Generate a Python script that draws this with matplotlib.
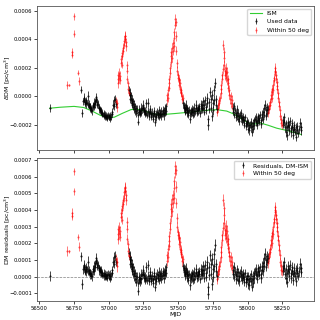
import numpy as np
import matplotlib
matplotlib.use('Agg')
from matplotlib import pyplot as plt

# DM values are given in units of 1e-4 pc/cm^3
SCALE = 1e-4

# ---- "Used data" (black) ----
used_mjd = [
    56574, 56797, 56804,
    56815, 56819, 56823, 56827, 56831, 56835, 56839, 56843, 56847, 56851,
    56855, 56859, 56863, 56867, 56871, 56875, 56879, 56883, 56887, 56891,
    56895, 56899, 56903, 56907, 56911, 56915, 56919, 56923, 56927, 56931,
    56935, 56939, 56943, 56947, 56951, 56955, 56959, 56963, 56967, 56971,
    56975, 56979, 56983, 56987, 56991, 56995, 56999, 57003, 57007, 57011,
    57016, 57021, 57026, 57031, 57036, 57041, 57046, 57050,
    57147, 57150, 57153, 57156, 57159, 57162, 57165, 57168, 57171, 57174,
    57177, 57180, 57184, 57188, 57192, 57196, 57200, 57204, 57208, 57212,
    57216, 57220, 57224, 57228, 57232, 57236, 57240, 57244, 57248, 57252,
    57256, 57260, 57264, 57268, 57272, 57276, 57280, 57284, 57288, 57292,
    57296, 57300, 57304, 57308, 57312, 57316, 57320, 57324, 57328, 57332,
    57336, 57340, 57344, 57348, 57352, 57356, 57360, 57364, 57368, 57372,
    57376, 57380, 57384, 57388, 57392, 57396, 57400, 57404, 57408, 57412,
    57416,
    57537, 57540, 57543, 57546, 57549, 57552, 57555, 57558, 57561, 57564,
    57567, 57570, 57574, 57578, 57582, 57586, 57590, 57594, 57598, 57602,
    57606, 57610, 57614, 57618, 57622, 57626, 57630, 57634, 57638, 57642,
    57646, 57650, 57654, 57658, 57662, 57666, 57670, 57674, 57678, 57682,
    57686, 57690, 57694, 57698, 57702, 57706, 57710, 57714, 57718, 57722,
    57726, 57730, 57734, 57738, 57742, 57746, 57750, 57754, 57758, 57762,
    57766, 57770, 57774, 57778,
    57894, 57898, 57902, 57906, 57910, 57914, 57918, 57922, 57926, 57930,
    57934, 57938, 57942, 57946, 57950, 57954, 57958, 57962, 57966, 57970,
    57974, 57978, 57982, 57986, 57990, 57994, 57998, 58002, 58006, 58010,
    58014, 58018, 58022, 58026, 58030, 58034, 58038, 58042, 58046, 58050,
    58054, 58058, 58062, 58066, 58070, 58074, 58078, 58082, 58086, 58090,
    58094, 58098, 58102, 58106, 58110, 58114, 58118, 58122, 58126, 58130,
    58134, 58138, 58142, 58146,
    58254, 58258, 58262, 58266, 58270, 58274, 58278, 58282, 58286, 58290,
    58294, 58298, 58302, 58306, 58310, 58314, 58318, 58322, 58326, 58330,
    58334, 58338, 58342, 58346, 58350, 58354, 58360, 58366, 58372, 58378,
    58383, 58388,
]
used_dm = [
    -0.80, 0.45, -1.20,
    -0.35, -0.10, -0.25, -0.55, -0.40, -0.50, -0.30, -0.45, 0.00, -0.60,
    -0.70, -0.55, -0.80, -0.75, -0.95, -0.85, -1.00, -0.70, -0.60, -0.75,
    -0.45, -0.55, -0.35, -0.25, -0.05, -0.40, -0.65, -0.55, -0.85, -0.80,
    -1.00, -0.90, -1.10, -1.05, -1.25, -1.15, -1.30, -1.20, -1.40, -1.30,
    -1.45, -1.35, -1.50, -1.40, -1.55, -1.35, -1.50, -1.40, -1.60, -1.35,
    -1.45, -1.25, -1.10, -0.60, -0.30, -0.70, -0.20, -0.55,
    0.40, 0.10, -0.20, 0.25, -0.30, 0.05, -0.45, -0.20, -0.60, -0.35,
    -0.75, -0.55, -0.90, -0.70, -1.05, -0.85, -1.20, -0.95, -1.30, -1.80,
    -1.10, -0.95, -1.25, -1.05, -0.80, -1.15, -0.90, -0.60, -0.85, -1.10,
    -0.95, -1.25, -1.05, -0.50, -1.15, -1.30, -1.05, -0.45, -1.20, -1.40,
    -1.10, -0.90, -1.25, -1.45, -1.15, -1.35, -1.60, -1.20, -1.05, -1.40,
    -1.85, -1.25, -1.50, -1.10, -1.35, -1.20, -1.45, -1.00, -1.30, -1.15,
    -1.40, -1.05, -1.25, -0.95, -1.20, -1.35, -1.00, -1.15, -0.85, -1.05,
    -0.70,
    -0.50, -0.85, -0.65, -1.00, -0.75, -1.10, -0.90, -0.60, -0.95, -1.20,
    -0.85, -1.05, -1.30, -0.95, -1.15, -1.60, -1.00, -1.25, -0.90, -1.10,
    -1.30, -0.95, -1.20, -0.80, -1.05, -0.85, -0.60, -0.95, -1.15, -0.80,
    -1.00, -0.70, -0.90, -1.20, -0.85, -0.55, -0.90, -0.65, -0.35, -0.80,
    -1.10, -0.60, -0.30, -0.75, -1.00, -0.45, -0.10, -1.60, -2.00, -0.90,
    -0.40, 0.30, -0.20, -0.80, -1.40, 0.10, -0.50, -1.00, -0.30, 0.40,
    0.95, -0.20, -0.60, -0.90,
    -0.80, -1.10, -0.70, -1.30, -1.00, -1.45, -1.20, -0.90, -1.35, -1.60,
    -1.15, -1.40, -1.75, -1.30, -1.55, -1.20, -1.50, -1.80, -1.45, -1.65,
    -2.00, -1.70, -1.50, -1.90, -2.10, -1.75, -1.95, -2.30, -1.85, -2.05,
    -2.40, -2.00, -1.80, -2.20, -2.55, -2.10, -1.90, -2.30, -1.70, -2.00,
    -1.60, -1.85, -1.50, -1.75, -2.05, -1.65, -1.40, -1.80, -1.55, -1.30,
    -1.70, -1.95, -1.50, -1.25, -1.60, -1.10, -0.85, -1.30, -0.60, -1.00,
    -1.40, -0.75, -1.15, -0.90,
    -1.70, -2.00, -1.50, -1.85, -2.20, -1.90, -2.50, -2.75, -2.20, -1.80,
    -2.10, -2.40, -2.00, -1.75, -2.25, -2.55, -2.15, -1.90, -2.35, -2.70,
    -2.30, -2.05, -2.50, -2.20, -2.85, -2.40, -2.10, -2.60, -2.30, -1.90,
    -2.40, -2.20,
]
used_err = [
    0.28, 0.25, 0.30,
    0.25, 0.30, 0.25, 0.20, 0.25, 0.30, 0.25, 0.20, 0.35, 0.25,
    0.20, 0.25, 0.30, 0.25, 0.20, 0.25, 0.30, 0.25, 0.20, 0.25,
    0.30, 0.25, 0.20, 0.25, 0.30, 0.25, 0.20, 0.25, 0.30, 0.20,
    0.25, 0.20, 0.25, 0.30, 0.20, 0.25, 0.20, 0.25, 0.20, 0.25,
    0.20, 0.25, 0.20, 0.25, 0.20, 0.25, 0.20, 0.25, 0.20, 0.25,
    0.25, 0.20, 0.25, 0.30, 0.30, 0.25, 0.30, 0.25,
    0.30, 0.25, 0.25, 0.30, 0.25, 0.25, 0.25, 0.30, 0.25, 0.25,
    0.25, 0.30, 0.25, 0.25, 0.25, 0.25, 0.25, 0.30, 0.25, 0.25,
    0.25, 0.30, 0.25, 0.25, 0.30, 0.25, 0.25, 0.30, 0.25, 0.25,
    0.25, 0.25, 0.30, 0.30, 0.25, 0.25, 0.30, 0.30, 0.25, 0.25,
    0.25, 0.30, 0.25, 0.25, 0.30, 0.25, 0.25, 0.25, 0.30, 0.25,
    0.25, 0.25, 0.25, 0.30, 0.25, 0.25, 0.25, 0.30, 0.25, 0.25,
    0.25, 0.30, 0.25, 0.25, 0.25, 0.30, 0.25, 0.25, 0.30, 0.25,
    0.25,
    0.30, 0.25, 0.25, 0.25, 0.30, 0.25, 0.25, 0.30, 0.25, 0.25,
    0.25, 0.30, 0.25, 0.25, 0.25, 0.30, 0.25, 0.25, 0.25, 0.30,
    0.25, 0.25, 0.25, 0.30, 0.25, 0.25, 0.30, 0.25, 0.25, 0.25,
    0.30, 0.25, 0.25, 0.25, 0.30, 0.25, 0.25, 0.30, 0.30, 0.25,
    0.25, 0.30, 0.30, 0.25, 0.25, 0.30, 0.35, 0.30, 0.35, 0.30,
    0.30, 0.35, 0.30, 0.30, 0.35, 0.35, 0.30, 0.30, 0.35, 0.35,
    0.35, 0.30, 0.30, 0.30,
    0.30, 0.25, 0.30, 0.25, 0.25, 0.30, 0.25, 0.25, 0.30, 0.25,
    0.25, 0.25, 0.30, 0.25, 0.25, 0.30, 0.25, 0.25, 0.30, 0.25,
    0.25, 0.30, 0.25, 0.25, 0.30, 0.25, 0.25, 0.30, 0.25, 0.25,
    0.30, 0.25, 0.25, 0.30, 0.25, 0.25, 0.30, 0.25, 0.25, 0.30,
    0.25, 0.25, 0.30, 0.25, 0.25, 0.30, 0.25, 0.25, 0.30, 0.25,
    0.25, 0.30, 0.25, 0.25, 0.30, 0.25, 0.30, 0.25, 0.35, 0.30,
    0.25, 0.30, 0.25, 0.30,
    0.30, 0.25, 0.30, 0.25, 0.30, 0.25, 0.35, 0.30, 0.25, 0.30,
    0.25, 0.30, 0.25, 0.30, 0.25, 0.30, 0.25, 0.30, 0.25, 0.30,
    0.25, 0.30, 0.25, 0.30, 0.30, 0.25, 0.30, 0.25, 0.30, 0.35,
    0.30, 0.35,
]

# ---- "Within 50 deg" of the Sun (red) ----
sun_mjd = [
    56696, 56713, 56732, 56735, 56751, 56753, 56780, 56789,
    57052, 57057, 57060,
    57064, 57067, 57070, 57074, 57077, 57080, 57084, 57087, 57090, 57093,
    57096, 57099, 57102, 57105, 57108, 57111, 57114, 57117, 57120, 57123,
    57126, 57129, 57132, 57135, 57138, 57141, 57144,
    57419, 57422, 57425, 57428, 57431, 57434, 57437, 57440, 57443, 57446,
    57449, 57452, 57455, 57458, 57461, 57464, 57467, 57470, 57473, 57476,
    57479, 57482, 57485, 57488, 57491, 57494, 57497, 57500, 57503, 57506,
    57509, 57512, 57515, 57518, 57521, 57524, 57527, 57530, 57533,
    57782, 57786, 57790, 57794, 57798, 57802, 57806, 57809, 57812, 57815,
    57818, 57821, 57824, 57827, 57830, 57833, 57836, 57839, 57842, 57845,
    57848, 57851, 57854, 57857, 57860, 57863, 57866, 57870, 57874, 57878,
    57882, 57886, 57890,
    58150, 58154, 58158, 58162, 58165, 58168, 58171, 58174, 58177, 58180,
    58183, 58186, 58189, 58192, 58195, 58198, 58201, 58204, 58207, 58210,
    58213, 58216, 58219, 58222, 58225, 58228, 58232, 58236, 58240, 58244,
    58248,
]
sun_dm = [
    0.80, 0.78, 3.10, 2.90, 5.60, 4.40, 1.65, 1.05,
    -0.35, -0.75, -0.50,
    1.20, 1.50, 0.90, 1.30, 1.65, 1.10, 1.45, 2.30, 2.60, 2.20,
    3.00, 2.80, 3.40, 3.20, 3.90, 3.60, 4.20, 4.00, 4.25, 3.80,
    3.50, 2.20, 1.80, 1.20, 0.90, 0.50, 0.25,
    -0.30, 0.05, -0.10, 0.40, 0.60, 0.90, 1.20, 1.60, 2.00, 2.40,
    2.80, 3.10, 2.70, 3.40, 3.20, 3.70, 3.50, 4.10, 4.50, 5.00,
    5.40, 5.20, 4.20, 3.20, 2.30, 1.80, 1.50, 1.30, 1.10, 1.20,
    0.80, 0.90, 0.50, 0.40, 0.20, 0.30, 0.00, -0.20, -0.10,
    -1.10, -0.80, -0.60, -0.30, -0.50, -0.10, 0.20, 0.50, 0.80, 1.20,
    1.50, 1.90, 3.60, 3.10, 2.70, 2.20, 1.80, 1.50, 2.00, 1.60,
    1.30, 1.70, 1.10, 0.90, 1.20, 0.60, 0.40, 0.10, -0.20, 0.00,
    -0.50, -0.30, -0.70,
    -1.20, -0.90, -0.70, -0.40, -0.60, -0.20, 0.10, -0.10, 0.30, 0.50,
    0.40, 0.80, 1.10, 1.30, 1.70, 2.00, 1.80, 1.50, 1.20, 1.00,
    0.70, 0.50, 0.20, -0.10, -0.40, -0.70, -1.00, -1.40, -1.60, -1.90,
    -2.00,
]
sun_err = [
    0.28, 0.08, 0.30, 0.25, 0.22, 0.22, 0.18, 0.28,
    0.30, 0.35, 0.30,
    0.30, 0.25, 0.30, 0.35, 0.30, 0.25, 0.30, 0.25, 0.30, 0.25,
    0.30, 0.25, 0.30, 0.30, 0.30, 0.25, 0.30, 0.25, 0.30, 0.30,
    0.30, 0.30, 0.25, 0.30, 0.25, 0.30, 0.25,
    0.30, 0.25, 0.30, 0.30, 0.25, 0.30, 0.30, 0.30, 0.30, 0.35,
    0.30, 0.30, 0.30, 0.35, 0.30, 0.30, 0.30, 0.35, 0.30, 0.30,
    0.35, 0.30, 0.35, 0.30, 0.30, 0.30, 0.25, 0.30, 0.25, 0.30,
    0.25, 0.30, 0.25, 0.30, 0.25, 0.30, 0.25, 0.30, 0.25,
    0.30, 0.30, 0.30, 0.30, 0.35, 0.30, 0.30, 0.30, 0.35, 0.35,
    0.30, 0.35, 0.35, 0.35, 0.35, 0.35, 0.35, 0.35, 0.35, 0.35,
    0.30, 0.35, 0.30, 0.35, 0.30, 0.30, 0.35, 0.30, 0.35, 0.30,
    0.30, 0.35, 0.30,
    0.30, 0.30, 0.30, 0.30, 0.30, 0.30, 0.30, 0.30, 0.30, 0.30,
    0.30, 0.30, 0.30, 0.30, 0.30, 0.30, 0.30, 0.30, 0.30, 0.30,
    0.30, 0.30, 0.30, 0.30, 0.30, 0.30, 0.30, 0.30, 0.30, 0.30,
    0.30,
]

# ---- ISM model curve ----
ism_mjd = [56574, 56650, 56750, 56820, 56880, 56940, 56990, 57040, 57100,
           57160, 57200, 57260, 57320, 57380, 57480, 57611, 57700, 57780,
           57850, 57900, 57960, 58017, 58060, 58090, 58150, 58210, 58300,
           58388]
ism_dm = [-0.85, -0.78, -0.72, -0.80, -1.05, -1.35, -1.50, -1.48, -1.20,
          -0.95, -0.90, -1.05, -1.25, -1.30, -1.22, -1.10, -1.00, -0.95,
          -1.05, -1.25, -1.60, -1.95, -1.95, -1.88, -2.05, -2.25, -2.45,
          -2.70]

used_t = np.array(used_mjd)
used_y = np.array(used_dm) * SCALE
used_e = np.array(used_err) * SCALE
sun_t = np.array(sun_mjd)
sun_y = np.array(sun_dm) * SCALE
sun_e = np.array(sun_err) * SCALE
ism_t = np.array(ism_mjd)
ism_y = np.array(ism_dm) * SCALE

# residuals: data minus the ISM model at the same epochs
used_res = used_y - np.interp(used_t, ism_t, ism_y)
sun_res = sun_y - np.interp(sun_t, ism_t, ism_y)

fig = plt.figure(figsize=(3.2, 3.2), dpi=100)
ax1 = fig.add_axes([0.1156, 0.531, 0.8656, 0.451])
ax2 = fig.add_axes([0.1156, 0.059, 0.8656, 0.448], sharex=ax1)

eb = dict(fmt='.', markersize=1, elinewidth=0.6, capsize=0)

ax1.plot(ism_t, ism_y, color='limegreen', lw=0.8, label='ISM')
ax1.errorbar(used_t, used_y, yerr=used_e, color='k', alpha=0.85,
             label='Used data', **eb)
ax1.errorbar(sun_t, sun_y, yerr=sun_e, color='red', alpha=0.6,
             label='Within 50 deg', **eb)
ax1.set_ylim(-0.000379, 0.000635)
ax1.set_yticks([-0.0002, 0.0, 0.0002, 0.0004, 0.0006])
ax1.set_ylabel(r'$\delta$DM [pc/cm$^3$]', fontsize=4.5)
ax1.tick_params(labelbottom=False)
ax1.legend(loc='upper right', fontsize=4.3)

ax2.errorbar(used_t, used_res, yerr=used_e, color='k', alpha=0.85,
             label='Residuals, DM-ISM', **eb)
ax2.errorbar(sun_t, sun_res, yerr=sun_e, color='red', alpha=0.6,
             label='Within 50 deg', **eb)
ax2.axhline(0, color='grey', ls='--', lw=0.5)
ax2.set_ylim(-0.000146, 0.000714)
ax2.set_yticks(np.arange(-0.0001, 0.00071, 0.0001))
ax2.set_xlim(56483, 58479)
ax2.set_xticks([56500, 56750, 57000, 57250, 57500, 57750, 58000, 58250])
ax2.set_xlabel('MJD', fontsize=4.5, labelpad=1)
ax2.set_ylabel('DM residuals [pc/cm$^3$]', fontsize=4.5)
ax2.legend(loc='upper right', fontsize=4.3)

for ax in (ax1, ax2):
    ax.tick_params(length=2, width=0.5, pad=1.5, labelsize=3.8)
    ax.yaxis.set_label_coords(-0.088, 0.5)
    for s in ax.spines.values():
        s.set_linewidth(0.6)
        s.set_color('#555555')

fig.savefig('out.png', dpi=100)
plt.close(fig)
